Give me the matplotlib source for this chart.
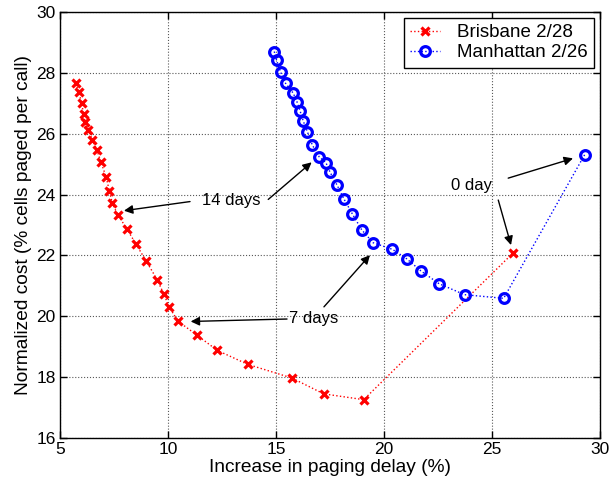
import matplotlib
matplotlib.use("Agg")
import matplotlib.pyplot as plt

plt.rcParams['font.family'] = ['Liberation Sans', 'DejaVu Sans']

# Brisbane 2/28 (red)
bris_x = [5.73, 5.88, 6.00, 6.09, 6.16, 6.30, 6.50, 6.71, 6.90, 7.14, 7.28, 7.42, 7.67,
          8.10, 8.50, 8.98, 9.50, 9.80, 10.06, 10.46, 11.32, 12.28, 13.69, 15.74,
          17.21, 19.06, 25.96]
bris_y = [27.66, 27.36, 27.00, 26.66, 26.39, 26.12, 25.80, 25.46, 25.06, 24.57, 24.13,
          23.72, 23.34, 22.87, 22.39, 21.83, 21.20, 20.74, 20.30, 19.84, 19.39, 18.88,
          18.42, 17.97, 17.45, 17.26, 22.07]

# Manhattan 2/26 (blue)
manh_x = [14.92, 15.03, 15.21, 15.44, 15.80, 15.97, 16.11, 16.26, 16.45, 16.68, 17.00,
          17.31, 17.50, 17.82, 18.15, 18.53, 18.97, 19.49, 20.39, 21.05, 21.71, 22.55,
          23.73, 25.54, 29.29]
manh_y = [28.70, 28.41, 28.03, 27.66, 27.33, 27.05, 26.76, 26.42, 26.07, 25.63, 25.24,
          25.05, 24.74, 24.32, 23.85, 23.37, 22.84, 22.42, 22.20, 21.89, 21.49, 21.07,
          20.71, 20.59, 25.31]

series_labels = ["Brisbane 2/28", "Manhattan 2/26"]
x_ticks = [5, 10, 15, 20, 25, 30]
y_ticks = [16, 18, 20, 22, 24, 26, 28, 30]

# annotation texts and arrows (text position, [(tail, head), ...])
annotations = [
    ("14 days", (12.95, 23.79), [((11.02, 23.77), (7.96, 23.47)),
                                 ((14.64, 23.84), (16.65, 25.06))]),
    ("7 days", (16.75, 19.94), [((15.51, 19.91), (11.05, 19.83)),
                                ((17.22, 20.31), (19.35, 22.01))]),
    ("0 day", (24.05, 24.31), [((25.75, 24.54), (28.75, 25.19)),
                               ((25.29, 23.82), (25.88, 22.34))]),
]

fig = plt.figure(figsize=(6.13, 4.87), dpi=100)
ax = fig.add_axes([60/613, 1-438/487, 540/613, 426/487])

ax.plot(bris_x, bris_y, linestyle=':', color='red', lw=1.0, marker='x',
        markersize=5.5, markeredgewidth=2.3, label=series_labels[0])
ax.plot(manh_x, manh_y, linestyle=':', color='blue', lw=1.0, marker='o',
        markersize=7, markeredgewidth=2.3, markerfacecolor='none', label=series_labels[1])

for txt, pos, arrows in annotations:
    ax.text(pos[0], pos[1], txt, fontsize=12, ha='center', va='center')
    for tail, head in arrows:
        ax.annotate('', xy=head, xytext=tail,
                    arrowprops=dict(arrowstyle='-|>', color='black', lw=1.0,
                                    mutation_scale=13, shrinkA=0, shrinkB=0))

ax.set_xlim(5, 30)
ax.set_ylim(16, 30)
ax.set_xticks(x_ticks)
ax.set_yticks(y_ticks)
ax.tick_params(direction='in', top=True, right=True, length=5, labelsize=12.5, width=1, pad=3)
ax.grid(True, linestyle=':', color='0.35', lw=0.8)
for s in ax.spines.values():
    s.set_linewidth(1.0)
    s.set_color('black')

ax.set_xlabel("Increase in paging delay (%)", fontsize=13.75, labelpad=1)
ax.set_ylabel("Normalized cost (% cells paged per call)", fontsize=13.75, labelpad=3)

leg = ax.legend(loc='upper right', fontsize=13.5, fancybox=False, framealpha=1,
                edgecolor='black', borderpad=0.35, handlelength=1.6, handletextpad=0.9,
                labelspacing=0.15, borderaxespad=0.3)
leg.get_frame().set_linewidth(1.0)

fig.savefig("out.png", dpi=100)
